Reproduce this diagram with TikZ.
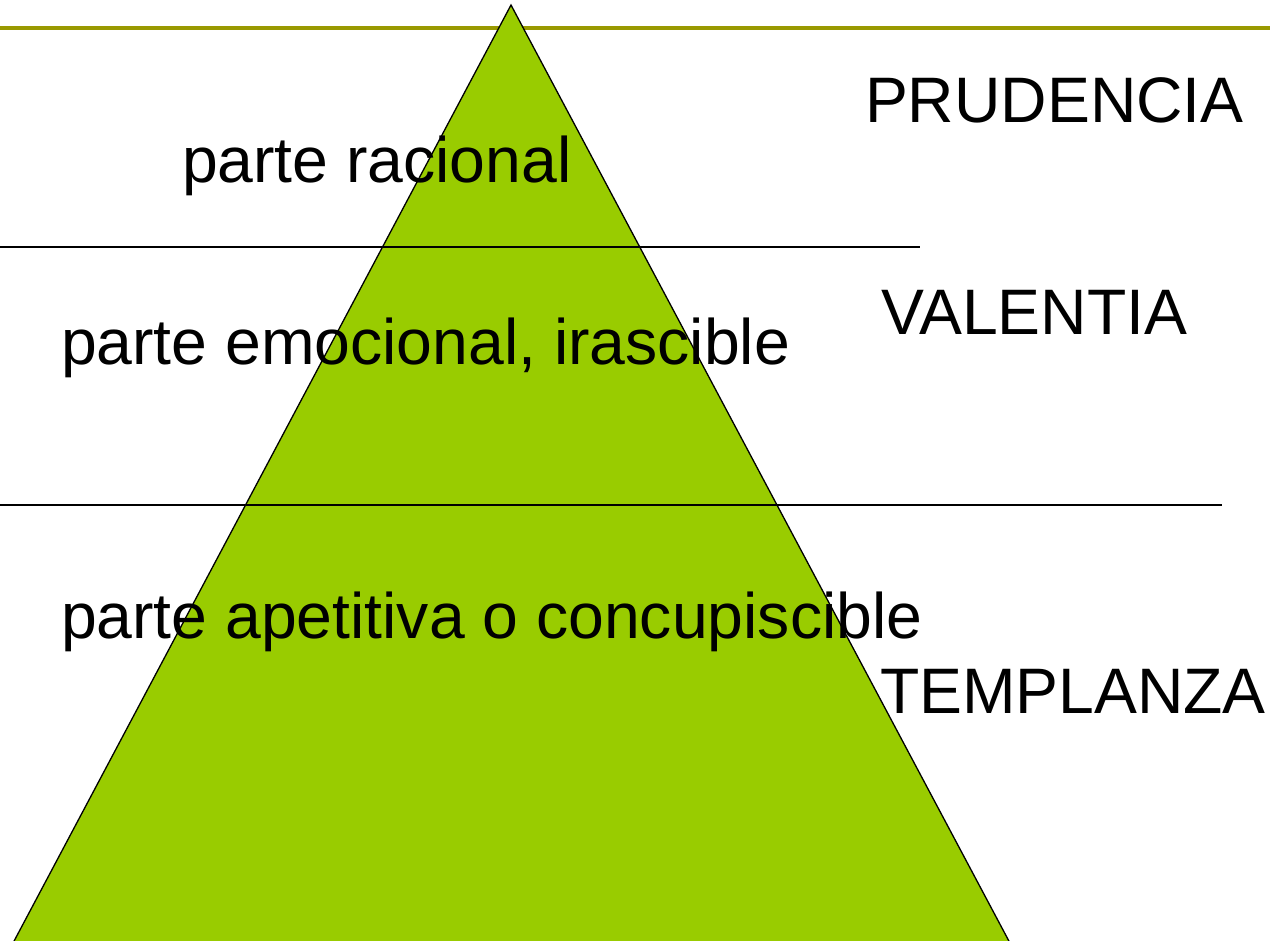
\documentclass[tikz,border=0pt]{standalone}
\usepackage{fontspec}
\setmainfont{Liberation Sans}
\definecolor{olivebar}{RGB}{153,153,0}
\definecolor{pyrgreen}{RGB}{153,204,0}
\begin{document}
\begin{tikzpicture}[x=1pt,y=-1pt,
  lbl/.style={anchor=base west,inner sep=0pt,outer sep=0pt,font=\fontsize{64.3}{64}\selectfont},
  divider/.style={draw=black,line width=1.5pt}]
\useasboundingbox (0,0) rectangle (1270,941);
\clip (0,0) rectangle (1270,941);
% top olive bar
\draw[olivebar,line width=4.5pt] (0,28) -- (1270,28);
% pyramid
\coordinate (apex) at (511,5);
\coordinate (bl) at (4,960);
\coordinate (br) at (1019,960);
\filldraw[fill=pyrgreen,draw=black,line width=1.3pt,line join=miter] (apex) -- (bl) -- (br) -- cycle;
% dividers
\draw[divider] (0,247) -- (920,247);
\draw[divider,line width=2pt] (0,505) -- (1222,505);
% labels
\node[lbl] (racional) at (182,183) {parte racional};
\node[lbl] (emocional) at (61,365) {parte emocional, irascible};
\node[lbl] (apetitiva) at (61,638) {parte apetitiva o concupiscible};
\node[lbl] (prudencia) at (865,123) {PRUDENCIA};
\node[lbl] (valentia) at (881,335) {VALENTIA};
\node[lbl] (templanza) at (880,713) {TEMPLANZA};
\end{tikzpicture}
\end{document}
